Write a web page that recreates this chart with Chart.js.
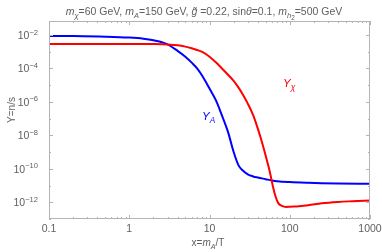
<!DOCTYPE html>
<html>
<head>
<meta charset="utf-8">
<script src="https://cdn.jsdelivr.net/npm/chart.js@4.4.1/dist/chart.umd.min.js"></script>
<style>
  html, body { margin: 0; padding: 0; background: #fff; }
  #wrap { width: 382px; height: 252px; }
</style>
</head>
<body>
<div id="wrap"><canvas id="chart"></canvas></div>
<script>
// Y_A (blue)
const xA = [0.1, 0.2, 0.5, 1, 1.5, 2, 3, 4, 5, 6, 7, 8, 10, 12, 14, 17, 20, 23, 26, 30, 35, 40, 50, 60, 70, 100, 170, 250, 400, 1000];
const yA = [8.7e-3, 8.5e-3, 7.9e-3, 7.0e-3, 6.0e-3, 4.8e-3, 2.75e-3, 1.12e-3, 5.0e-4, 2.2e-4, 1.0e-4, 4.0e-5, 6.3e-6, 1.26e-6, 2.0e-7, 1.6e-8, 1.0e-9, 1.6e-10, 7.9e-11, 4.7e-11, 3.5e-11, 3.0e-11, 2.4e-11, 2.0e-11, 1.8e-11, 1.6e-11, 1.45e-11, 1.38e-11, 1.32e-11, 1.26e-11];

// Y_X (red)
const xX = [0.1, 1, 2, 3, 4, 5, 6, 7, 8, 10, 12, 14, 17, 20, 23, 26, 30, 35, 40, 45, 50, 55, 58, 62, 67, 72, 80, 90, 100, 130, 170, 250, 400, 600, 1000];
const yX = [2.9e-3, 2.9e-3, 2.85e-3, 2.7e-3, 2.4e-3, 2.0e-3, 1.6e-3, 1.26e-3, 1.0e-3, 5.0e-4, 2.3e-4, 1.1e-4, 4.2e-5, 1.8e-5, 7.1e-6, 2.8e-6, 7.9e-7, 1.6e-7, 2.5e-8, 4.0e-9, 6.3e-10, 1.1e-10, 3.6e-11, 7.9e-12, 2.0e-12, 8.9e-13, 6.0e-13, 5.2e-13, 5.4e-13, 5.8e-13, 6.6e-13, 8.7e-13, 1.05e-12, 1.15e-12, 1.26e-12];

const xTickValues = [0.1, 1, 10, 100, 1000];
const xTickLabels = ['0.1', '1', '10', '100', '1000'];
const yTickPowers = [-12, -10, -8, -6, -4, -2];
const xRange = [0.1, 1000];
const yRange = [1e-13, 0.068];

const GRAY = '#5f5f5f';
const FRAME = '#b4b4b4';
const FONT = '"Liberation Sans", Arial, sans-serif';

// draw text pieces with italics / subscripts
function partSize(p, size) {
  return p.sub === 2 ? size * 0.6 : (p.sub || p.sup) ? size * 0.72 : size;
}
function richWidth(ctx, parts, size) {
  let w = 0;
  for (const p of parts) {
    ctx.font = (p.i ? 'italic ' : '') + partSize(p, size) + 'px ' + FONT;
    w += ctx.measureText(p.t).width;
  }
  return w;
}
function drawRich(ctx, parts, x, y, size, color, align) {
  const w = richWidth(ctx, parts, size);
  let cx = align === 'center' ? x - w / 2 : align === 'right' ? x - w : x;
  ctx.save();
  ctx.fillStyle = color;
  ctx.textBaseline = 'alphabetic';
  ctx.textAlign = 'left';
  for (const p of parts) {
    const dy = p.sub === 2 ? size * 0.45 : p.sub ? size * 0.28 : p.sup ? -size * 0.42 : 0;
    ctx.font = (p.i ? 'italic ' : '') + partSize(p, size) + 'px ' + FONT;
    ctx.fillText(p.t, cx, y + dy);
    cx += ctx.measureText(p.t).width;
  }
  ctx.restore();
}

const titleParts = [
  { t: 'm', i: 1 }, { t: 'χ', i: 1, sub: 1 }, { t: '=60 GeV, ' },
  { t: 'm', i: 1 }, { t: 'A', i: 1, sub: 1 }, { t: '=150 GeV, ' },
  { t: 'g\u0303', i: 1 }, { t: ' =0.22, sin' }, { t: 'θ', i: 1 }, { t: '=0.1, ' },
  { t: 'm', i: 1 }, { t: 'h', i: 1, sub: 1 }, { t: '2', sub: 2 }, { t: '=500 GeV' }
];

const framePlugin = {
  id: 'frame',
  afterDraw(chart) {
    const ctx = chart.ctx;
    const a = chart.chartArea;
    const xs = chart.scales.x, ys = chart.scales.y;
    ctx.save();
    ctx.strokeStyle = FRAME;
    ctx.lineWidth = 1;
    ctx.strokeRect(a.left + 0.5, a.top + 0.5, a.right - a.left - 1, a.bottom - a.top - 1);

    ctx.beginPath();
    // x ticks, bottom and top
    for (const base of xTickValues) {
      for (let k = 1; k <= 9; k++) {
        const v = base * k;
        if (v > xRange[1] * 1.0001) break;
        const px = Math.round(xs.getPixelForValue(v)) + 0.5;
        const len = k === 1 ? 4 : 2;
        ctx.moveTo(px, a.bottom); ctx.lineTo(px, a.bottom - len);
        ctx.moveTo(px, a.top); ctx.lineTo(px, a.top + len);
      }
    }
    // y ticks every decade, left and right
    for (let p = -13; p <= -2; p++) {
      const py = Math.round(ys.getPixelForValue(Math.pow(10, p))) + 0.5;
      const len = p % 2 === 0 ? 4 : 2;
      ctx.moveTo(a.left, py); ctx.lineTo(a.left + len, py);
      ctx.moveTo(a.right, py); ctx.lineTo(a.right - len, py);
    }
    ctx.stroke();
    ctx.restore();

    // x tick labels
    ctx.save();
    ctx.fillStyle = GRAY;
    ctx.font = '10.5px ' + FONT;
    ctx.textAlign = 'center';
    ctx.textBaseline = 'alphabetic';
    xTickValues.forEach((v, i) => {
      ctx.fillText(xTickLabels[i], xs.getPixelForValue(v), a.bottom + 13);
    });
    ctx.restore();

    // y tick labels 10^p
    for (const p of yTickPowers) {
      const py = ys.getPixelForValue(Math.pow(10, p));
      drawRich(ctx, [{ t: '10' }, { t: '\u2212' + Math.abs(p), sup: 1 }], a.left - 11, py + 4, 10.5, GRAY, 'right');
    }

    // title
    drawRich(ctx, titleParts, 204, 15, 10.5, GRAY, 'center');

    // axis titles
    ctx.save();
    ctx.translate(15, 110);
    ctx.rotate(-Math.PI / 2);
    ctx.fillStyle = GRAY;
    ctx.font = '10px ' + FONT;
    ctx.textAlign = 'center';
    ctx.textBaseline = 'alphabetic';
    ctx.fillText('Y=n/s', 0, 0);
    ctx.restore();
    drawRich(ctx, [{ t: 'x=' }, { t: 'm', i: 1 }, { t: 'A', i: 1, sub: 1 }, { t: '/T' }], 208, 246, 10, GRAY, 'center');

    // curve labels
    drawRich(ctx, [{ t: 'Y', i: 1 }, { t: 'A', i: 1, sub: 1 }], 202, 120, 11.5, '#0000ff', 'left');
    drawRich(ctx, [{ t: 'Y', i: 1 }, { t: 'χ', i: 1, sub: 1 }], 283, 87, 11.5, '#ff0000', 'left');
  }
};

function toPoints(xs, ys) {
  return xs.map((x, i) => ({ x: x, y: ys[i] }));
}

new Chart(document.getElementById('chart'), {
  type: 'scatter',
  data: {
    datasets: [
      {
        label: 'Y_X',
        data: toPoints(xX, yX),
        showLine: true,
        borderColor: '#ff0000',
        borderWidth: 2,
        pointRadius: 0,
        cubicInterpolationMode: 'monotone'
      },
      {
        label: 'Y_A',
        data: toPoints(xA, yA),
        showLine: true,
        borderColor: '#0000ff',
        borderWidth: 2,
        pointRadius: 0,
        cubicInterpolationMode: 'monotone'
      }
    ]
  },
  options: {
    responsive: true,
    maintainAspectRatio: false,
    animation: false,
    events: [],
    layout: { padding: { left: 49, right: 12, top: 21, bottom: 33 } },
    plugins: { legend: { display: false }, tooltip: { enabled: false } },
    scales: {
      x: { type: 'logarithmic', display: false, min: xRange[0], max: xRange[1] },
      y: { type: 'logarithmic', display: false, min: yRange[0], max: yRange[1] }
    }
  },
  plugins: [framePlugin]
});
</script>
</body>
</html>
